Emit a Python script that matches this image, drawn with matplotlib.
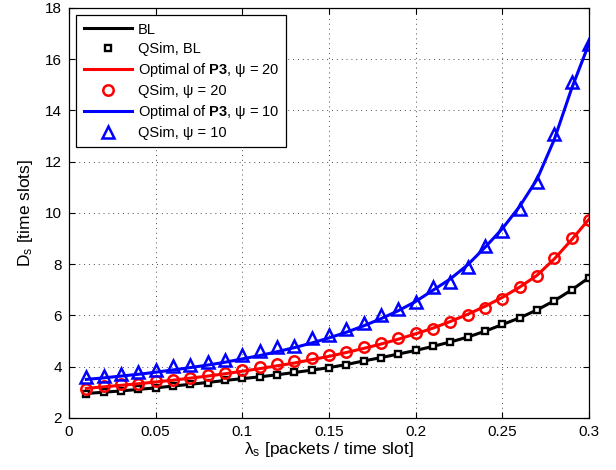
import numpy as np
import matplotlib
matplotlib.use('Agg')
import matplotlib.pyplot as plt

plt.rcParams['font.family'] = ['Liberation Sans', 'DejaVu Sans']
plt.rcParams['mathtext.fontset'] = 'custom'
plt.rcParams['mathtext.rm'] = 'Liberation Sans'
plt.rcParams['mathtext.it'] = 'Liberation Sans:italic'
plt.rcParams['mathtext.bf'] = 'Liberation Sans:bold'

# arrival rate (packets / time slot)
lam = np.round(np.arange(1, 31) * 0.01, 2)

# baseline: analytic curve and queue simulation
bl_opt = [2.95, 3.00, 3.05, 3.11, 3.17, 3.24, 3.31, 3.38, 3.46, 3.53,
          3.60, 3.68, 3.77, 3.86, 3.96, 4.08, 4.22, 4.35, 4.49, 4.63,
          4.79, 4.96, 5.15, 5.38, 5.64, 5.90, 6.21, 6.57, 6.99, 7.47]
bl_sim = [2.94, 2.99, 3.04, 3.11, 3.17, 3.24, 3.32, 3.37, 3.46, 3.54,
          3.60, 3.68, 3.77, 3.85, 3.96, 4.08, 4.23, 4.34, 4.49, 4.63,
          4.79, 4.96, 5.15, 5.39, 5.65, 5.89, 6.21, 6.57, 6.99, 7.47]

# psi = 20
p20_opt = [3.15, 3.21, 3.27, 3.33, 3.40, 3.47, 3.55, 3.63, 3.72, 3.82,
           3.92, 4.03, 4.14, 4.27, 4.40, 4.55, 4.71, 4.88, 5.07, 5.28,
           5.50, 5.76, 6.04, 6.35, 6.70, 7.10, 7.56, 8.20, 8.95, 9.75]
p20_sim = [3.12, 3.25, 3.32, 3.34, 3.42, 3.48, 3.57, 3.67, 3.75, 3.86,
           4.00, 4.10, 4.20, 4.34, 4.45, 4.56, 4.76, 4.93, 5.10, 5.30,
           5.48, 5.76, 6.01, 6.30, 6.65, 7.09, 7.52, 8.24, 9.03, 9.73]

# psi = 10
p10_opt = [3.50, 3.56, 3.63, 3.70, 3.78, 3.87, 3.96, 4.06, 4.17, 4.30,
           4.43, 4.58, 4.74, 4.92, 5.12, 5.34, 5.59, 5.87, 6.18, 6.54,
           6.98, 7.42, 7.97, 8.65, 9.38, 10.25, 11.30, 12.86, 14.85, 16.6]
p10_sim = [3.59, 3.64, 3.72, 3.78, 3.87, 4.03, 4.06, 4.19, 4.24, 4.47,
           4.60, 4.77, 4.79, 5.13, 5.24, 5.45, 5.70, 6.03, 6.24, 6.54,
           7.10, 7.32, 7.87, 8.69, 9.29, 10.15, 11.21, 13.08, 15.1, 16.61]

xticks = [0, 0.05, 0.1, 0.15, 0.2, 0.25, 0.3]
xticklabels = ['0', '0.05', '0.1', '0.15', '0.2', '0.25', '0.3']
yticks = [2, 4, 6, 8, 10, 12, 14, 16, 18]

fig = plt.figure(figsize=(6.16, 4.70), dpi=100)
ax = fig.add_axes([0.112, 0.111, 0.844, 0.872])

lw = 2.2
ax.plot(lam, bl_opt, '-', color='black', lw=lw, label='BL')
ax.plot(lam, bl_sim, 's', color='black', mfc='white', ms=5, mew=1.7,
        ls='none', label='QSim, BL')
ax.plot(lam, p20_opt, '-', color='red', lw=lw,
        label=r'Optimal of $\mathbf{P3}$, ψ = 20')
ax.plot(lam, p20_sim, 'o', color='red', mfc='none', ms=7.5, mew=1.8,
        ls='none', label='QSim, ψ = 20')
ax.plot(lam, p10_opt, '-', color='blue', lw=lw,
        label=r'Optimal of $\mathbf{P3}$, ψ = 10')
ax.plot(lam, p10_sim, '^', color='blue', mfc='none', ms=8.5, mew=1.8,
        ls='none', label='QSim, ψ = 10')

ax.set_xlim(0, 0.3)
ax.set_ylim(2, 18)
ax.set_xticks(xticks)
ax.set_xticklabels(xticklabels)
ax.set_yticks(yticks)
ax.tick_params(direction='in', top=True, right=True, labelsize=11,
               length=4, width=0.8)
ax.tick_params(axis='x', pad=5)
ax.tick_params(axis='y', pad=5)
ax.grid(True, ls=(0, (1, 4)), color='black', lw=0.7, alpha=0.7)
for sp in ax.spines.values():
    sp.set_linewidth(0.9)

ax.set_xlabel(r'$\mathrm{\lambda_s}$ [packets / time slot]', fontsize=12.5,
              labelpad=1)
ax.set_ylabel(r'D$_\mathrm{s}$ [time slots]', fontsize=12.5, labelpad=7)

leg = ax.legend(loc='upper left', fontsize=10.5, handlelength=3.3,
                labelspacing=0.35, borderaxespad=0.5, fancybox=False,
                framealpha=1, edgecolor='black', handletextpad=0.4,
                borderpad=0.5)
leg.get_frame().set_linewidth(0.9)

fig.savefig('out.png', dpi=100)
